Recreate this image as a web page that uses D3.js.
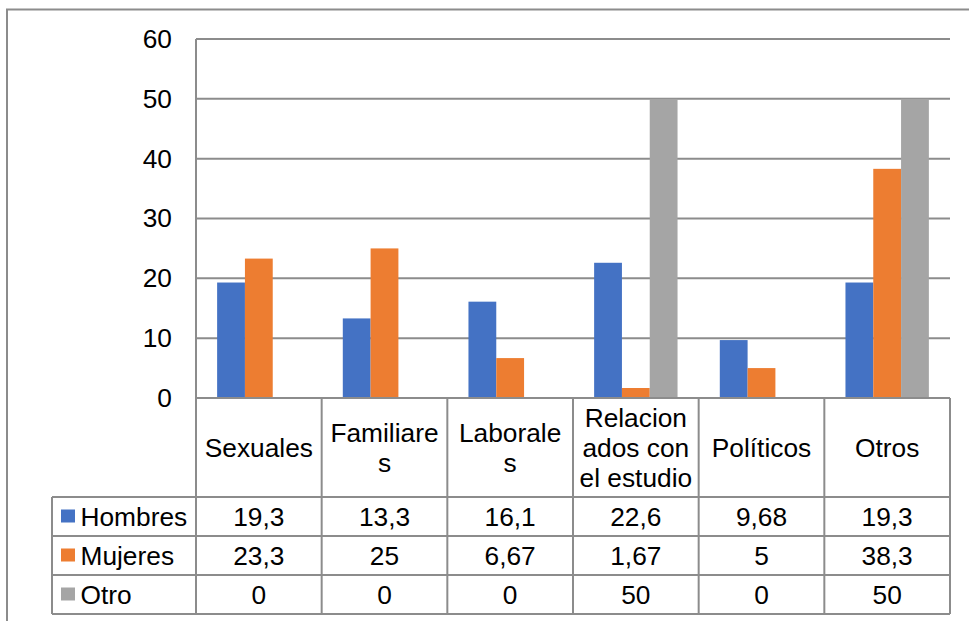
<!DOCTYPE html>
<html><head><meta charset="utf-8">
<script src="https://cdn.jsdelivr.net/npm/d3@7"></script>
<style>body{margin:0;background:#fff}svg{display:block}</style>
</head><body>
<script>
const categories = ["Sexuales","Familiares","Laborales","Relacionados con el estudio","Políticos","Otros"];
const categoryLines = [["Sexuales"],["Familiare","s"],["Laborale","s"],["Relacion","ados con","el estudio"],["Políticos"],["Otros"]];
const seriesNames = ["Hombres","Mujeres","Otro"];
const hombres = [19.3,13.3,16.1,22.6,9.68,19.3];
const mujeres = [23.3,25,6.67,1.67,5,38.3];
const otro = [0,0,0,50,0,50];
const tableLabels = [["19,3","13,3","16,1","22,6","9,68","19,3"],["23,3","25","6,67","1,67","5","38,3"],["0","0","0","50","0","50"]];
const yTicks = [0,10,20,30,40,50,60];
const colors = ["#4472C4","#ED7D31","#A5A5A5"];

const W=969,H=621;
const svg=d3.select("body").append("svg").attr("width",W).attr("height",H);
const font="'Liberation Sans', Arial, sans-serif";
const fs=26.3;
const gridCol="#8c8c8c";

svg.append("rect").attr("x",7).attr("y",9.5).attr("width",1100).attr("height",800)
  .attr("fill","#fff").attr("stroke",gridCol).attr("stroke-width",2);

const x0=196,x1=950,yTop=39,yBot=398;
const x=d3.scaleBand().domain(categories).range([x0,x1]);
const y=d3.scaleLinear().domain([0,60]).range([yBot,yTop]);
const xs=d3.scaleBand().domain(seriesNames).range([0,x.bandwidth()]).paddingInner(0).paddingOuter(0.76);

const yAxis=d3.axisLeft(y).tickValues(yTicks).tickSize(0).tickPadding(24);
const ga=svg.append("g").attr("transform",`translate(${x0},0)`).call(yAxis);
ga.select(".domain").remove();
ga.selectAll("text").attr("font-family",font).attr("font-size",fs).attr("fill","#000");
svg.append("g").selectAll("line").data(yTicks).join("line")
  .attr("x1",x0).attr("x2",x1).attr("y1",d=>y(d)).attr("y2",d=>y(d))
  .attr("stroke",gridCol).attr("stroke-width",2);

const series=[hombres,mujeres,otro];
series.forEach((vals,si)=>{
  svg.append("g").selectAll("rect").data(vals).join("rect")
    .attr("x",(d,i)=>x(categories[i])+xs(seriesNames[si]))
    .attr("width",xs.bandwidth())
    .attr("y",d=>y(d)).attr("height",d=>y(0)-y(d))
    .attr("fill",colors[si]);
});
svg.append("line").attr("x1",x0).attr("x2",x1).attr("y1",yBot).attr("y2",yBot).attr("stroke",gridCol).attr("stroke-width",2);
svg.append("line").attr("x1",x0).attr("x2",x0).attr("y1",yTop).attr("y2",yBot).attr("stroke",gridCol).attr("stroke-width",2);

const catBot=497, rowH=39, tabLeft=52;
const rowsY=[catBot,catBot+rowH,catBot+2*rowH,catBot+3*rowH];
const t=svg.append("g");
[x0,...categories.map(c=>x(c)+x.bandwidth())].forEach(xx=>{
  t.append("line").attr("x1",xx).attr("x2",xx).attr("y1",yBot).attr("y2",rowsY[3]).attr("stroke",gridCol).attr("stroke-width",2);
});
t.append("line").attr("x1",tabLeft).attr("x2",tabLeft).attr("y1",catBot).attr("y2",rowsY[3]).attr("stroke",gridCol).attr("stroke-width",2);
rowsY.forEach(yy=>{
  t.append("line").attr("x1",tabLeft).attr("x2",x1).attr("y1",yy).attr("y2",yy).attr("stroke",gridCol).attr("stroke-width",2);
});
categories.forEach((c,i)=>{
  const lines=categoryLines[i];
  const cy=(yBot+catBot)/2, lh=30;
  lines.forEach((ln,j)=>{
    t.append("text").attr("x",x(c)+x.bandwidth()/2).attr("y",cy+(j-(lines.length-1)/2)*lh)
      .attr("dy","0.36em").attr("text-anchor","middle").attr("font-family",font).attr("font-size",fs).text(ln);
  });
});
seriesNames.forEach((s,si)=>{
  const cy=rowsY[si]+rowH/2;
  t.append("rect").attr("x",61).attr("y",cy-7).attr("width",14).attr("height",13).attr("fill",colors[si]);
  t.append("text").attr("x",80.5).attr("y",cy).attr("dy","0.36em").attr("font-family",font).attr("font-size",fs).text(s);
  tableLabels[si].forEach((v,i)=>{
    t.append("text").attr("x",x(categories[i])+x.bandwidth()/2).attr("y",cy).attr("dy","0.36em")
      .attr("text-anchor","middle").attr("font-family",font).attr("font-size",fs).text(v);
  });
});
</script>
</body></html>
